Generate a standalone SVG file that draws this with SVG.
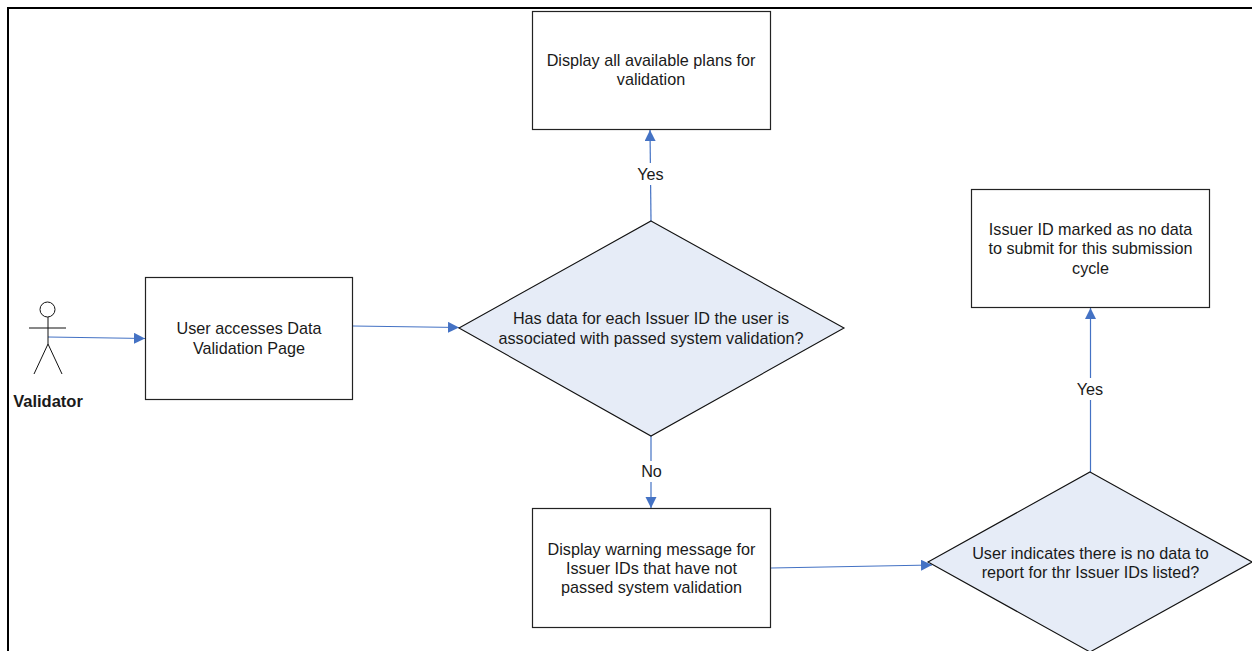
<svg xmlns="http://www.w3.org/2000/svg" width="1252" height="651" viewBox="0 0 1252 651">
<style>
text{font-family:"Liberation Sans",Arial,sans-serif;font-size:16.200px;fill:#1a1a1a;text-anchor:middle}
.box{fill:#fff;stroke:#222;stroke-width:1.2}
.dec{fill:#e6ecf7;stroke:#111;stroke-width:1.1}
.c{fill:none;stroke:#4472c4;stroke-width:1.2;marker-end:url(#a)}
.act{fill:none;stroke:#111;stroke-width:1}
</style>
<defs><marker id="a" markerUnits="userSpaceOnUse" markerWidth="12" markerHeight="12" refX="11" refY="5.500" orient="auto"><path d="M0 0L11 5.500L0 11Z" fill="#4472c4"/></marker></defs>
<rect width="1252" height="651" fill="#fff"/>
<path d="M8 651V8H1252" fill="none" stroke="#000" stroke-width="2"/>
<g id="connectors">
<path class="c" d="M48 337L145 338.500"/>
<path class="c" d="M353 326L459 327.500"/>
<path class="c" d="M651 221L650 130"/>
<path class="c" d="M651 436V508"/>
<path class="c" d="M771 568L932 565"/>
<path class="c" d="M1090.500 472V308"/>
</g>
<g id="label-yes-1"><rect x="634" y="163" width="34" height="22" fill="#fff"/><text x="650.500" y="180">Yes</text></g>
<g id="label-no"><rect x="638" y="461" width="28" height="21" fill="#fff"/><text x="651.500" y="477">No</text></g>
<g id="label-yes-2"><rect x="1073" y="378" width="34" height="22" fill="#fff"/><text x="1090" y="395">Yes</text></g>
<g id="actor"><circle class="act" cx="47.500" cy="309.500" r="7.500"/><path class="act" d="M48 317V344M29 328H66M48 344L34 374M48 344L62 374"/><text x="48" y="407" style="font-weight:700;font-size:16.500px">Validator</text></g>
<g id="access"><rect class="box" x="145.500" y="277.500" width="207" height="122"/><text x="249" y="334">User accesses Data</text><text x="249" y="354">Validation Page</text></g>
<g id="plans"><rect class="box" x="532.500" y="11.500" width="238" height="118"/><text x="651" y="66">Display all available plans for</text><text x="651" y="85">validation</text></g>
<g id="decision-passed"><path class="dec" d="M651 221L844 328L651 436L459 328Z"/><text x="651" y="324">Has data for each Issuer ID the user is</text><text x="651" y="344">associated with passed system validation?</text></g>
<g id="warning"><rect class="box" x="532.500" y="508.500" width="238" height="119"/><text x="651.500" y="555">Display warning message for</text><text x="651.500" y="574">Issuer IDs that have not</text><text x="651.500" y="593">passed system validation</text></g>
<g id="marked"><rect class="box" x="971.500" y="189.500" width="238" height="118"/><text x="1090.500" y="235">Issuer ID marked as no data</text><text x="1090.500" y="254">to submit for this submission</text><text x="1090.500" y="274">cycle</text></g>
<g id="decision-nodata"><path class="dec" d="M1090 472L1252 562L1090 652L928 562Z"/><text x="1090.500" y="559">User indicates there is no data to</text><text x="1090.500" y="578">report for thr Issuer IDs listed?</text></g>
</svg>
